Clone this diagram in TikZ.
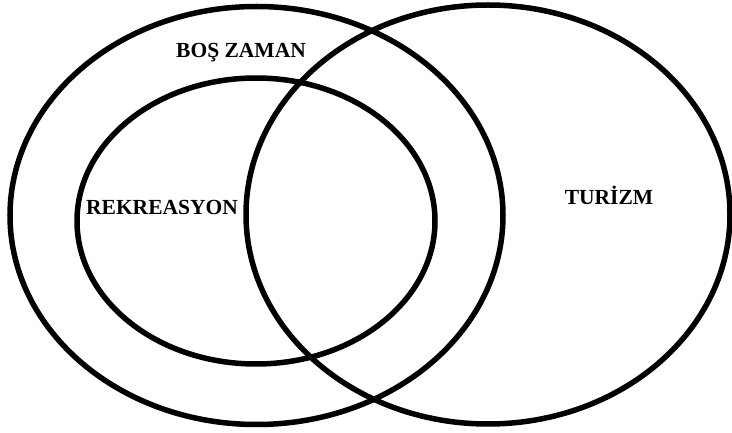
\documentclass[tikz,border=0pt]{standalone}
\usepackage{fontspec}
\setmainfont{Liberation Serif}

\begin{document}
\begin{tikzpicture}[x=1pt, y=-1pt]
        \tikzstyle{ring} = [line width=5.5pt, draw=black]
        \tikzstyle{setname} = [font=\fontsize{21.5}{24}\selectfont\bfseries, anchor=base, inner sep=0pt]
        \useasboundingbox (0,0) rectangle (732,433);
        % the three sets
        \draw [ring] (256.5,215.5) ellipse [x radius=246.5pt, y radius=209pt];
        \draw [ring] (256,221) ellipse [x radius=179pt, y radius=143pt];
        \draw [ring] (488,214.5) ellipse [x radius=242pt, y radius=209.5pt];
        % names
        \node (bos) [setname] at (241,58) {BOŞ ZAMAN};
        \node (rek) [setname] at (162,215) {REKREASYON};
        \node (tur) [setname] at (609,205) {TURİZM};
    \end{tikzpicture}
\end{document}
